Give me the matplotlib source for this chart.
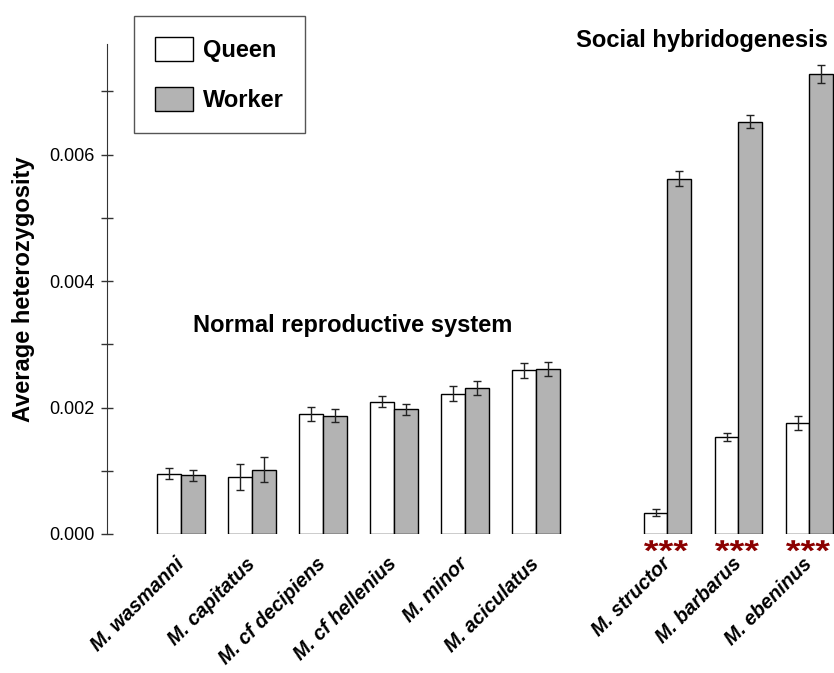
import numpy as np
import matplotlib
matplotlib.use("Agg")
import matplotlib.pyplot as plt
from matplotlib.patches import Patch, PathPatch
from matplotlib.textpath import TextPath
from matplotlib.font_manager import FontProperties
from matplotlib.transforms import Affine2D, ScaledTranslation

plt.rcParams['font.family'] = ['Liberation Sans', 'DejaVu Sans']

species = ["M. wasmanni", "M. capitatus", "M. cf decipiens", "M. cf hellenius",
           "M. minor", "M. aciculatus", "M. structor", "M. barbarus", "M. ebeninus"]
queen = [0.00095, 0.00090, 0.00190, 0.00209, 0.00222, 0.00259, 0.00034, 0.00153, 0.00176]
queen_err = [0.000087, 0.00020, 0.000107, 0.000087, 0.000116, 0.000116, 0.00006, 0.00006, 0.00011]
worker = [0.00093, 0.00102, 0.00187, 0.00197, 0.00231, 0.00261, 0.00562, 0.00652, 0.00728]
worker_err = [0.000084, 0.000195, 0.00010, 0.000087, 0.000116, 0.000116, 0.000118, 0.000105, 0.000145]
significant = [False]*6 + [True]*3

W, H = 834, 673
fig = plt.figure(figsize=(W/100, H/100), dpi=100)
ax = fig.add_axes([107/W, 1-534/H, (W-107)/W, (534-44)/H])

pos = np.r_[np.arange(6), np.arange(3) + 6.85]
bw = 1/3
ekw = dict(ecolor='#222222', elinewidth=1.0, capsize=3, capthick=1.0)
ax.bar(pos - bw/2, queen, bw, yerr=queen_err, color='white', edgecolor='black',
       linewidth=1.0, error_kw=ekw, label='Queen')
ax.bar(pos + bw/2, worker, bw, yerr=worker_err, color='#b3b3b3', edgecolor='black',
       linewidth=1.0, error_kw=ekw, label='Worker')

ax.set_xlim(-1.042, 9.197)
ax.set_ylim(0, 0.00775)
for s in ['top', 'right', 'bottom']:
    ax.spines[s].set_visible(False)
ax.spines['left'].set_color('#333333')
ax.set_yticks([0, 0.002, 0.004, 0.006])
ax.set_yticklabels(['0.000', '0.002', '0.004', '0.006'])
ax.set_yticks([0.001, 0.003, 0.005, 0.007], minor=True)
ax.tick_params(axis='y', which='both', direction='inout', length=8, width=1,
               color='#333333', labelsize=13, pad=5)
ax.tick_params(axis='x', length=0)
ax.set_xticks(pos)
ax.set_xticklabels(species, rotation=45, ha='right', va='center', rotation_mode='anchor',
                   fontsize=14.3, fontweight='bold', fontstyle='italic')
ax.tick_params(axis='x', pad=19.5)

# significance stars: text outline stretched to a wide, low shape as in the original
star_path = TextPath((0, 0), '***', size=1,
                     prop=FontProperties(family='Liberation Sans', weight='bold'))
bb = star_path.get_extents()
sx, sy = 0.44 / bb.width, 0.11 / bb.height
for p, sig in zip(pos, significant):
    if sig:
        tr = (Affine2D().translate(-(bb.x0 + bb.width / 2), -(bb.y0 + bb.height / 2))
              .scale(sx, sy) + fig.dpi_scale_trans
              + ScaledTranslation(p - 0.02, -0.000185, ax.transData))
        ax.add_artist(PathPatch(star_path, transform=tr, facecolor='#8b0000',
                                edgecolor='none', clip_on=False))

ax.set_ylabel('Average heterozygosity', fontsize=17, fontweight='bold', labelpad=10)

ax.text(2.42, 0.0033, 'Normal reproductive system', ha='center', va='center',
        fontsize=17, fontweight='bold')
ax.text(0.9917, 0.0078, 'Social hybridogenesis', ha='right', va='center',
        fontsize=17.1, fontweight='bold', transform=ax.get_yaxis_transform())

leg = ax.legend(handles=[Patch(facecolor='white', edgecolor='black', label='Queen'),
                         Patch(facecolor='#b3b3b3', edgecolor='black', label='Worker')],
                loc='upper left', bbox_to_anchor=(134/W, 1-16/H), bbox_transform=fig.transFigure,
                fancybox=False, edgecolor='#555555', framealpha=1,
                prop=dict(weight='bold', size=17), handlelength=1.61, handleheight=1.2,
                labelspacing=1.05, borderpad=0.9, handletextpad=0.42, borderaxespad=0)
leg.get_frame().set_linewidth(1.0)

fig.savefig('out.png', dpi=100)
